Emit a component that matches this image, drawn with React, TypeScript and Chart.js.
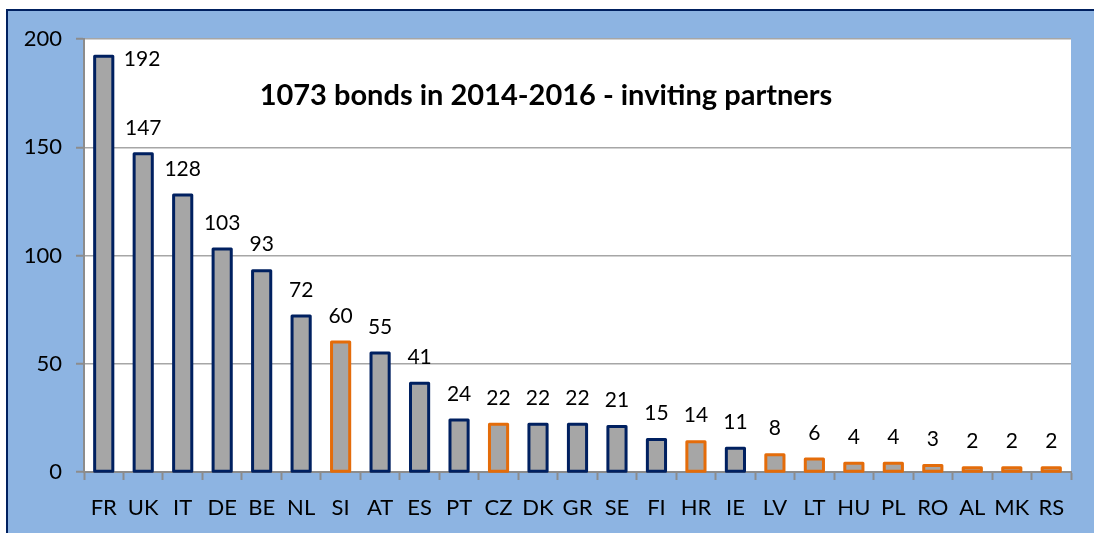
import React, { useEffect, useRef } from "react";
import { Chart, registerables } from "chart.js";

Chart.register(...registerables);

const categories = ["FR","UK","IT","DE","BE","NL","SI","AT","ES","PT","CZ","DK","GR","SE","FI","HR","IE","LV","LT","HU","PL","RO","AL","MK","RS"];
const bondCounts = [192,147,128,103,93,72,60,55,41,24,22,22,22,21,15,14,11,8,6,4,4,3,2,2,2];
const orangeGroup = ["SI","CZ","HR","LV","LT","HU","PL","RO","AL","MK","RS"];
const yTicks = [0, 50, 100, 150, 200];
const titleText = "1073 bonds in 2014-2016 - inviting partners";

const NAVY = "#002060";
const ORANGE = "#E46C0A";
const FILL = "#A6A6A6";
const PANEL = "#8DB4E2";
const FONT = "Lato, 'Open Sans', sans-serif";

const borderColors = categories.map((c) => (orangeGroup.includes(c) ? ORANGE : NAVY));

const framePlugin = {
  id: "frame",
  beforeDraw(chart: any) {
    const { ctx, width, height, chartArea } = chart;
    ctx.save();
    ctx.fillStyle = "#ffffff";
    ctx.fillRect(0, 0, width, height);
    ctx.fillStyle = NAVY;
    ctx.fillRect(6, 9, width - 6, height - 9);
    ctx.fillStyle = PANEL;
    ctx.fillRect(8, 11, width - 8, height - 11);
    ctx.fillStyle = "#ffffff";
    ctx.fillRect(chartArea.left, chartArea.top, chartArea.right - chartArea.left, chartArea.bottom - chartArea.top);
    ctx.restore();
  },
};

const barOutlinePlugin = {
  id: "barOutline",
  afterDatasetsDraw(chart: any) {
    const { ctx, chartArea } = chart;
    const meta = chart.getDatasetMeta(0);
    ctx.save();
    ctx.lineWidth = 3;
    ctx.lineJoin = "round";
    meta.data.forEach((bar: any, i: number) => {
      const { x, y, base, width } = bar.getProps(["x", "y", "base", "width"], true);
      ctx.strokeStyle = borderColors[i];
      ctx.strokeRect(x - width / 2, y, width, base - y);
    });
    // labels
    ctx.fillStyle = "#000";
    ctx.font = `21px ${FONT}`;
    ctx.textBaseline = "middle";
    meta.data.forEach((bar: any, i: number) => {
      const { x, y, width } = bar.getProps(["x", "y", "width"], true);
      const txt = String(bondCounts[i]);
      const ly = y - 26;
      if (ly < chartArea.top + 8) {
        ctx.textAlign = "left";
        ctx.fillText(txt, x + width / 2 + 11, y + 3);
      } else {
        ctx.textAlign = "center";
        ctx.fillText(txt, x, ly);
      }
    });
    // title
    ctx.font = `bold 29px ${FONT}`;
    ctx.textAlign = "center";
    ctx.fillText(titleText, 546, 96);
    ctx.restore();
  },
};

export default function App() {
  const canvasRef = useRef<HTMLCanvasElement | null>(null);

  useEffect(() => {
    document.body.style.margin = "0";
    const canvas = canvasRef.current;
    if (!canvas) return;
    const chart = new Chart(canvas, {
      type: "bar",
      data: {
        labels: categories,
        datasets: [
          {
            data: bondCounts,
            backgroundColor: FILL,
            borderWidth: 0,
            categoryPercentage: 1,
            barPercentage: 0.46,
          },
        ],
      },
      options: {
        animation: false,
        responsive: false,
        maintainAspectRatio: false,
        layout: { padding: { left: 0, top: 39, right: 23, bottom: 0 } },
        plugins: {
          legend: { display: false },
          tooltip: { enabled: false },
          title: { display: false },
        },
        scales: {
          x: {
            afterFit: (s: any) => { s.height = 61; },
            grid: {
              offset: true,
              drawOnChartArea: false,
              drawTicks: true,
              tickLength: 8,
              tickColor: "#8C8C8C",
              tickWidth: 2,
            },
            border: { color: "#8C8C8C", width: 2 },
            ticks: {
              color: "#000",
              font: { family: FONT, size: 22 },
              padding: 15,
              autoSkip: false,
              maxRotation: 0,
            },
          },
          y: {
            min: 0,
            max: 200,
            afterFit: (s: any) => { s.width = 84; },
            afterBuildTicks: (s: any) => { s.ticks = yTicks.map((v) => ({ value: v })); },
            grid: {
              color: "#A6A6A6",
              lineWidth: 1.5,
              drawTicks: true,
              tickLength: 8,
              tickColor: "#8C8C8C",
              tickWidth: 2,
            },
            border: { color: "#8C8C8C", width: 2 },
            ticks: {
              color: "#000",
              font: { family: FONT, size: 22 },
              padding: 14,
            },
          },
        },
      },
      plugins: [framePlugin, barOutlinePlugin],
    });
    return () => chart.destroy();
  }, []);

  return (
    <div style={{ position: "absolute", left: 0, top: 0, width: 1094, height: 533 }}>
      <canvas ref={canvasRef} width={1094} height={533} style={{ width: 1094, height: 533, display: "block" }} />
    </div>
  );
}
